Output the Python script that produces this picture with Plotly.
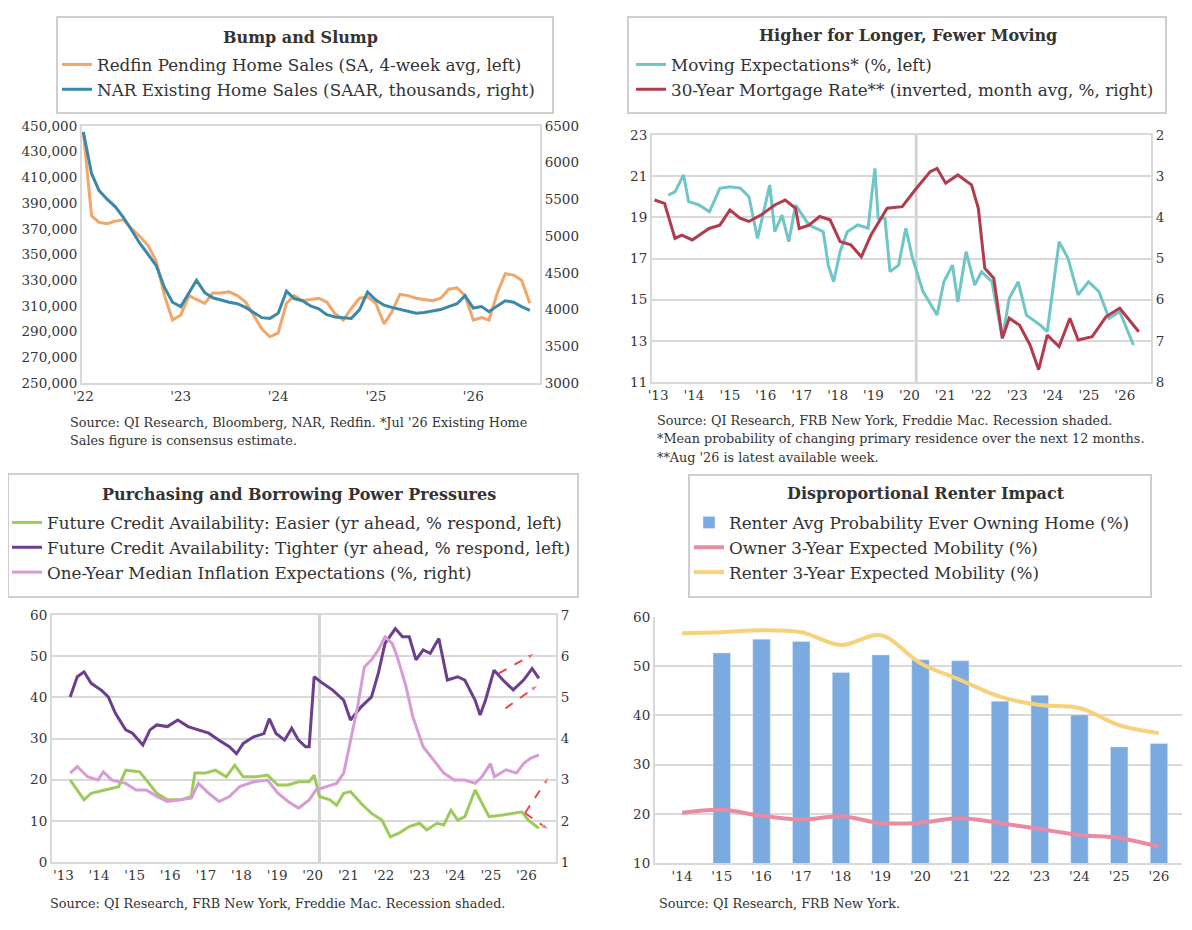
import plotly.graph_objs as go
import pandas as pd

# ---------------- data ----------------
# bump and slump (monthly, jan '22 - aug '26)
p1_dates = pd.date_range('2022-01-01', periods=56, freq='MS')
redfin_pending = [445000, 380000, 375000, 374000, 376000, 377000, 370000, 364000, 357000, 345000, 318000, 299000,
                  303000, 318000, 315000, 312000, 320000, 320000, 321000, 318000, 313000, 303000, 292000, 286000,
                  289000, 312000, 318000, 314000, 315000, 316000, 313000, 304000, 299000, 308000, 316000, 317000,
                  312000, 296000, 305000, 319000, 318000, 316000, 315000, 314000, 316000, 323000, 324000, 318000,
                  299000, 301000, 299000, 320000, 335000, 334000, 330000, 312000]
nar_existing = [6420, 5850, 5620, 5500, 5400, 5250, 5080, 4900, 4750, 4600, 4300, 4100,
                4040, 4230, 4400, 4230, 4160, 4130, 4100, 4080, 4030, 3960, 3890, 3880,
                3950, 4250, 4150, 4120, 4050, 4010, 3930, 3900, 3890, 3880, 4000, 4240,
                4130, 4060, 4030, 4000, 3980, 3950, 3960, 3980, 4000, 4040, 4080, 4190,
                4020, 4040, 3970, 4050, 4120, 4100, 4040, 3990]
p1_years = ['2022-01-01', '2023-01-01', '2024-01-01', '2025-01-01', '2026-01-01']
p1_ticktext = ["'22", "'23", "'24", "'25", "'26"]

# higher for longer, fewer moving
moving_x = [2013.28, 2013.47, 2013.71, 2013.85, 2014.14, 2014.43, 2014.72, 2015.0, 2015.29, 2015.53, 2015.77, 2015.97,
            2016.11, 2016.25, 2016.45, 2016.64, 2016.83, 2017.2, 2017.6, 2017.74, 2017.89, 2018.07, 2018.27, 2018.56,
            2018.85, 2018.94, 2019.04, 2019.13, 2019.32, 2019.46, 2019.7, 2019.9, 2020.09, 2020.38, 2020.77, 2020.96,
            2021.2, 2021.35, 2021.58, 2021.82, 2022.01, 2022.3, 2022.59, 2022.78, 2023.03, 2023.26, 2023.64, 2023.84,
            2024.17, 2024.42, 2024.7, 2024.99, 2025.28, 2025.56, 2025.86, 2026.24]
moving_exp = [20.08, 20.24, 21.06, 19.76, 19.6, 19.27, 20.41, 20.49, 20.42, 20.0, 17.98, 19.44,
              20.57, 18.3, 19.11, 17.82, 19.6, 18.63, 18.3, 16.68, 15.87, 17.33, 18.3, 18.63,
              18.47, 19.92, 21.38, 18.95, 18.95, 16.36, 16.68, 18.47, 17.0, 15.39, 14.25, 15.87,
              16.68, 14.9, 17.33, 15.71, 16.36, 15.87, 13.12, 15.06, 15.87, 14.25, 13.77, 13.44,
              17.82, 17.0, 15.23, 15.87, 15.39, 14.1, 14.42, 12.8]
mortgage_x = [2012.9, 2013.18, 2013.47, 2013.66, 2013.95, 2014.42, 2014.72, 2015.0, 2015.28, 2015.53, 2015.87,
              2016.25, 2016.54, 2016.83, 2016.93, 2017.2, 2017.5, 2017.79, 2018.07, 2018.37, 2018.66, 2018.93,
              2019.38, 2019.8, 2020.19, 2020.58, 2020.77, 2021.01, 2021.35, 2021.73, 2021.92, 2022.1, 2022.35,
              2022.59, 2022.78, 2023.07, 2023.36, 2023.6, 2023.84, 2024.17, 2024.47, 2024.7, 2025.09, 2025.48,
              2025.86, 2026.39]
mortgage_rate = [3.58, 3.66, 4.51, 4.43, 4.55, 4.27, 4.19, 3.82, 4.02, 4.10, 3.94,
                 3.70, 3.58, 3.78, 4.27, 4.19, 3.98, 4.06, 4.59, 4.67, 4.96, 4.43,
                 3.78, 3.74, 3.30, 2.89, 2.81, 3.17, 2.97, 3.21, 3.78, 5.24, 5.48,
                 6.94, 6.45, 6.62, 7.10, 7.70, 6.86, 7.14, 6.45, 6.98, 6.90, 6.41,
                 6.21, 6.78]

# purchasing and borrowing power pressures
tighter_x = [2013.19, 2013.39, 2013.58, 2013.78, 2014.07, 2014.26, 2014.46, 2014.75, 2014.94, 2015.23, 2015.43,
             2015.62, 2015.92, 2016.21, 2016.5, 2016.79, 2017.08, 2017.37, 2017.66, 2017.86, 2018.05, 2018.34,
             2018.63, 2018.78, 2018.97, 2019.21, 2019.41, 2019.6, 2019.8, 2019.9, 2020.04, 2020.28, 2020.57,
             2020.87, 2021.06, 2021.36, 2021.65, 2021.84, 2022.03, 2022.32, 2022.52, 2022.71, 2022.9, 2023.1,
             2023.3, 2023.54, 2023.78, 2024.07, 2024.27, 2024.56, 2024.7, 2024.85, 2025.09, 2025.34, 2025.63,
             2025.92, 2026.16, 2026.35]
credit_tighter = [40.1, 45.0, 46.2, 43.4, 41.7, 40.1, 36.1, 32.1, 31.3, 28.4, 32.1,
                  33.3, 32.9, 34.5, 32.9, 32.1, 31.3, 29.6, 28.0, 26.3, 28.8, 30.4,
                  31.2, 34.8, 31.2, 29.6, 32.5, 29.6, 28.0, 28.0, 45.0, 43.4, 41.7,
                  39.3, 34.5, 37.7, 40.1, 45.8, 53.1, 56.7, 54.7, 54.7, 49.1, 51.5,
                  50.7, 54.3, 44.2, 45.0, 44.2, 39.3, 35.7, 39.3, 46.6, 44.2, 41.8,
                  44.2, 47.0, 44.6]
easier_x = [2013.19, 2013.39, 2013.58, 2013.78, 2014.17, 2014.55, 2014.75, 2015.14, 2015.33, 2015.62, 2015.92,
            2016.3, 2016.59, 2016.69, 2016.98, 2017.27, 2017.57, 2017.81, 2018.05, 2018.44, 2018.73, 2019.02,
            2019.31, 2019.6, 2019.9, 2020.04, 2020.19, 2020.48, 2020.67, 2020.87, 2021.06, 2021.36, 2021.65,
            2021.94, 2022.18, 2022.42, 2022.71, 2023.0, 2023.2, 2023.49, 2023.68, 2023.88, 2024.07, 2024.27,
            2024.56, 2024.75, 2024.95, 2025.34, 2025.63, 2025.87, 2026.06, 2026.35]
credit_easier = [19.9, 17.5, 15.1, 16.7, 17.5, 18.3, 22.3, 21.9, 19.9, 16.7, 15.1,
                 15.1, 15.9, 21.6, 21.6, 22.3, 20.7, 23.5, 20.7, 20.7, 21.1, 18.7,
                 18.7, 19.5, 19.5, 21.1, 15.9, 15.1, 13.8, 16.7, 17.1, 14.2, 11.8,
                 10.2, 6.1, 7.0, 8.6, 9.4, 7.8, 9.4, 9.0, 12.6, 10.2, 11.0,
                 17.5, 14.2, 11.0, 11.4, 11.8, 12.2, 10.1, 8.2]
inflation_x = [2013.19, 2013.39, 2013.68, 2013.97, 2014.12, 2014.36, 2014.75, 2015.04, 2015.33, 2015.62, 2015.92,
               2016.3, 2016.59, 2016.79, 2017.08, 2017.37, 2017.66, 2017.95, 2018.34, 2018.73, 2019.02, 2019.31,
               2019.6, 2019.9, 2020.09, 2020.38, 2020.67, 2020.87, 2021.06, 2021.26, 2021.45, 2021.65, 2021.84,
               2022.03, 2022.23, 2022.37, 2022.62, 2022.81, 2023.1, 2023.39, 2023.68, 2023.97, 2024.27, 2024.56,
               2024.75, 2024.99, 2025.1, 2025.43, 2025.72, 2025.92, 2026.11, 2026.35]
inflation_exp = [3.16, 3.32, 3.07, 2.99, 3.19, 2.99, 2.91, 2.75, 2.75, 2.59, 2.47,
                 2.51, 2.55, 2.91, 2.67, 2.47, 2.59, 2.83, 2.95, 2.99, 2.67, 2.47,
                 2.31, 2.51, 2.75, 2.83, 2.91, 3.16, 3.96, 4.77, 5.74, 5.91, 6.15,
                 6.47, 6.31, 5.99, 5.26, 4.53, 3.8, 3.48, 3.16, 2.99, 2.99, 2.91,
                 3.07, 3.39, 3.07, 3.24, 3.16, 3.39, 3.52, 3.6]
# red dashed guide arrows drawn at the end of the credit series
guide_upper_x, guide_upper_y = [2025.22, 2026.24], [45.8, 50.7]
guide_lower_x, guide_lower_y = [2025.41, 2026.33], [37.3, 43.0]
fan_up_x, fan_up_y = [2025.96, 2026.63], [11.9, 20.7]
fan_down_x, fan_down_y = [2025.96, 2026.63], [11.9, 7.8]

recession = [2020.15, 2020.23]
long_years = list(range(2013, 2027))
long_ticktext = ["'" + str(y)[2:] for y in long_years]

# disproportional renter impact
survey_years = ["'14", "'15", "'16", "'17", "'18", "'19", "'20", "'21", "'22", "'23", "'24", "'25", "'26"]
renter_own_prob = [None, 52.7, 55.5, 55.0, 48.7, 52.3, 51.3, 51.1, 42.9, 44.1, 40.1, 33.6, 34.3]
owner_mobility = [20.2, 20.8, 19.6, 18.8, 19.5, 18.1, 18.2, 19.1, 18.1, 16.9, 15.7, 15.1, 13.3]
renter_mobility = [56.7, 56.9, 57.3, 56.9, 54.3, 56.3, 50.6, 47.2, 43.8, 42.1, 41.5, 38.0, 36.4]

# ---------------- layout helpers ----------------
# the page body adds an 8px margin, so screen pixels are offset by 8
W, H = 1176, 914
OFF = 8
FONT = 'DejaVu Serif'
GRID = '#d9d9d9'
TXT = '#363636'


def fx(p):
    return (p - OFF) / W


def fy(p):
    return 1 - (p - OFF) / H


def axis(**kw):
    base = dict(showline=True, linecolor=GRID, linewidth=2, mirror=False, ticks='',
                tickfont=dict(family=FONT, size=13.5, color=TXT), zeroline=False, showgrid=False,
                fixedrange=True, automargin=False)
    base.update(kw)
    return base


def line(x, y, name, color, xa, ya, leg, width=3, shape='linear'):
    return go.Scatter(x=x, y=y, name=name, mode='lines', legendgroup=name,
                      line=dict(color=color, width=width, shape=shape),
                      xaxis=xa, yaxis=ya, legend=leg)


# ---------------- traces ----------------
data = [
    line(p1_dates, redfin_pending, 'Redfin Pending Home Sales (SA, 4-week avg, left)', '#F2A66A', 'x', 'y', 'legend'),
    line(p1_dates, nar_existing, 'NAR Existing Home Sales (SAAR, thousands, right)', '#3B88AB', 'x', 'y2', 'legend'),

    line(moving_x, moving_exp, 'Moving Expectations* (%, left)', '#6FC6C7', 'x2', 'y3', 'legend2'),
    line(mortgage_x, mortgage_rate, '30-Year Mortgage Rate** (inverted, month avg, %, right)', '#B23C4C',
         'x2', 'y4', 'legend2'),

    line(easier_x, credit_easier, 'Future Credit Availability: Easier (yr ahead, % respond, left)', '#9CCB5C',
         'x3', 'y5', 'legend3'),
    line(tighter_x, credit_tighter, 'Future Credit Availability: Tighter (yr ahead, % respond, left)', '#6B3F8E',
         'x3', 'y5', 'legend3'),
    line(inflation_x, inflation_exp, 'One-Year Median Inflation Expectations (%, right)', '#D99BD6',
         'x3', 'y6', 'legend3'),
]

for gx, gy in [(guide_upper_x, guide_upper_y), (guide_lower_x, guide_lower_y),
               (fan_up_x, fan_up_y), (fan_down_x, fan_down_y)]:
    data.append(go.Scatter(x=gx, y=gy, mode='lines+markers', showlegend=False,
                           line=dict(color='#E8474C', width=2, dash='dash'),
                           marker=dict(symbol='arrow', angleref='previous', size=[0, 8], color='#E8474C'),
                           xaxis='x3', yaxis='y5'))

data += [
    go.Bar(x=survey_years, y=renter_own_prob, name='Renter Avg Probability Ever Owning Home (%)',
           legendgroup='bars', marker=dict(color='#7AAADF'), width=0.44, xaxis='x4', yaxis='y7', legend='legend4'),
    line(survey_years, owner_mobility, 'Owner 3-Year Expected Mobility (%)', '#E98BA3', 'x4', 'y7', 'legend4',
         width=4, shape='spline'),
    line(survey_years, renter_mobility, 'Renter 3-Year Expected Mobility (%)', '#F6D27C', 'x4', 'y7', 'legend4',
         width=4, shape='spline'),
]


# ---------------- layout ----------------
def legend_at(left, top):
    return dict(x=fx(left), y=fy(top), xanchor='left', yanchor='top', bgcolor='rgba(0,0,0,0)',
                borderwidth=0, itemwidth=30, tracegroupgap=1, traceorder='normal',
                font=dict(family=FONT, size=16.8, color='#333'))


layout = go.Layout(
    width=W, height=H, margin=dict(l=0, r=0, t=0, b=0, autoexpand=False),
    paper_bgcolor='white', plot_bgcolor='white', showlegend=True,
    font=dict(family=FONT, color=TXT),

    xaxis=axis(domain=[fx(82), fx(540)], anchor='y', type='date', range=['2021-12-27', '2026-09-08'],
               tickvals=p1_years, ticktext=p1_ticktext, mirror=True),
    yaxis=axis(domain=[fy(383), fy(126)], anchor='x', range=[250000, 450000], tick0=250000, dtick=20000,
               tickformat=','),
    yaxis2=axis(overlaying='y', side='right', anchor='x', range=[3000, 6500], dtick=500, tickformat='d'),

    xaxis2=axis(domain=[fx(652), fx(1151)], anchor='y3', range=[2012.83, 2026.73],
                tickvals=long_years, ticktext=long_ticktext, mirror=True),
    yaxis3=axis(domain=[fy(382), fy(135)], anchor='x2', range=[11, 23], tick0=11, dtick=2,
                showgrid=True, gridcolor=GRID, gridwidth=2),
    yaxis4=axis(overlaying='y3', side='right', anchor='x2', range=[8, 2], dtick=1),

    xaxis3=axis(domain=[fx(52), fx(556)], anchor='y5', range=[2012.68, 2026.83],
                tickvals=long_years, ticktext=long_ticktext, mirror=True),
    yaxis5=axis(domain=[fy(862), fy(615)], anchor='x3', range=[0, 60], dtick=10,
                showgrid=True, gridcolor=GRID, gridwidth=2),
    yaxis6=axis(overlaying='y5', side='right', anchor='x3', range=[1, 7], dtick=1),

    xaxis4=axis(domain=[fx(655), fx(1182)], anchor='y7', type='category', range=[-0.68, 12.58]),
    yaxis7=axis(domain=[fy(863), fy(617)], anchor='x4', range=[10, 60], dtick=10,
                showgrid=True, gridcolor=GRID, gridwidth=2),

    legend=legend_at(57, 47),
    legend2=legend_at(631, 47),
    legend3=legend_at(7, 505),
    legend4=legend_at(689, 505),
)

fig = go.Figure(data=data, layout=layout)

# legend boxes
for x0, y0, x1, y1 in [(57, 17, 553, 113), (628, 17, 1166, 113), (8, 474, 578, 597), (689, 475, 1151, 597)]:
    fig.add_shape(type='rect', xref='paper', yref='paper', x0=fx(x0), x1=fx(x1), y0=fy(y1), y1=fy(y0),
                  line=dict(color='#cfcfcf', width=2), fillcolor='rgba(0,0,0,0)', layer='below')

# legend titles
titles = [
    (300, 38, 'Bump and Slump'),
    (908, 36, 'Higher for Longer, Fewer Moving'),
    (299, 495, 'Purchasing and Borrowing Power Pressures'),
    (926, 493, 'Disproportional Renter Impact'),
]
for x, y, t in titles:
    fig.add_annotation(x=fx(x), y=fy(y), xref='paper', yref='paper', text='<b>' + t + '</b>', showarrow=False,
                       xanchor='center', yanchor='middle', font=dict(family=FONT, size=16, color='#333'))

# recession shading
for xr, yr in [('x2', 'y3 domain'), ('x3', 'y5 domain')]:
    fig.add_shape(type='rect', xref=xr, yref=yr, x0=recession[0], x1=recession[1], y0=0, y1=1,
                  fillcolor='#d2d2d2', line=dict(width=0), layer='below')

# source notes
notes = [
    (68, 422, "Source: QI Research, Bloomberg, NAR, Redfin. *Jul '26 Existing Home"),
    (68, 440, "Sales figure is consensus estimate."),
    (655, 420, "Source: QI Research, FRB New York, Freddie Mac. Recession shaded."),
    (655, 438, "*Mean probability of changing primary residence over the next 12 months."),
    (655, 457, "**Aug '26 is latest available week."),
    (48, 903, "Source: QI Research, FRB New York, Freddie Mac. Recession shaded."),
    (657, 903, "Source: QI Research, FRB New York."),
]
for x, y, t in notes:
    fig.add_annotation(x=fx(x), y=fy(y), xref='paper', yref='paper', text=t, showarrow=False,
                       xanchor='left', yanchor='middle', font=dict(family=FONT, size=12.8, color='#333'))

fig.write_html("out.html")
